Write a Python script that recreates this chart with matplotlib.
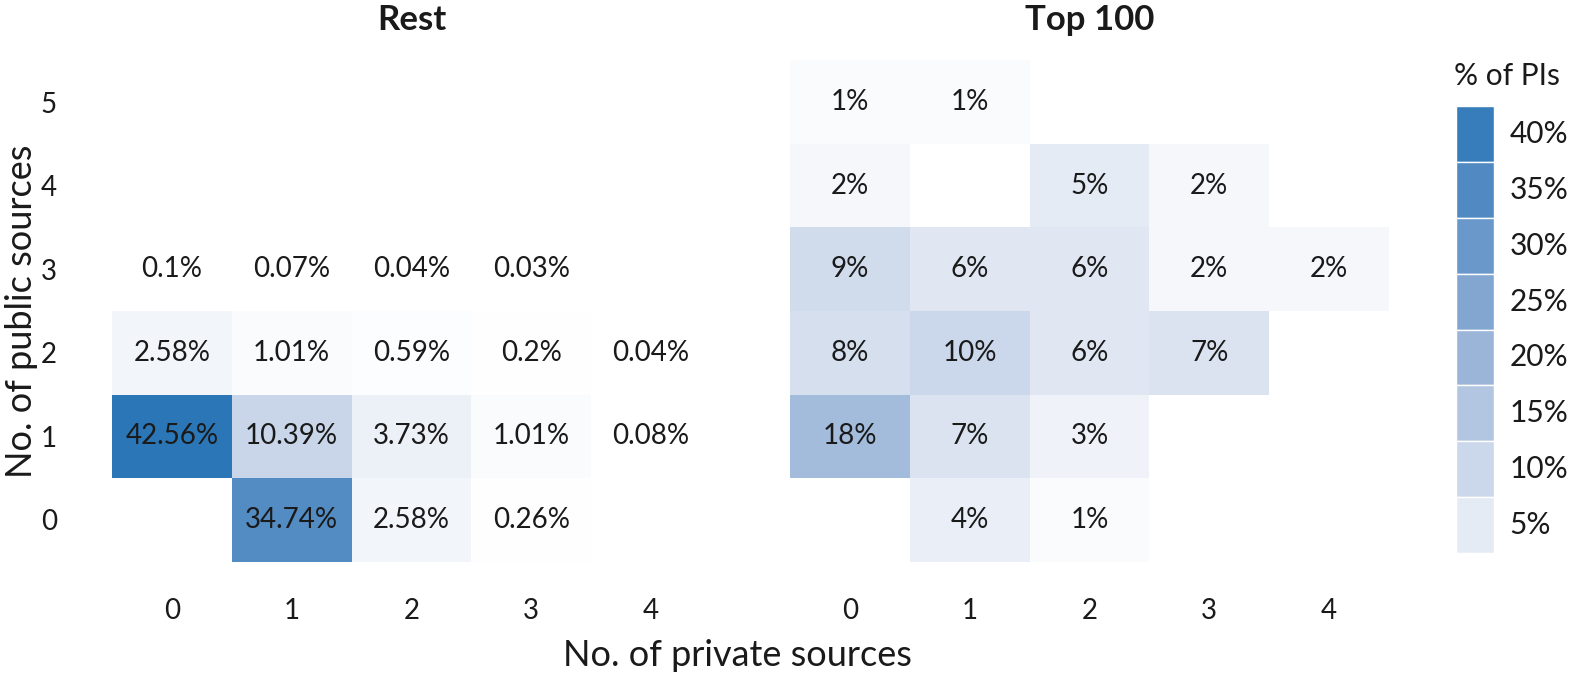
import matplotlib
matplotlib.use("Agg")
import matplotlib.pyplot as plt
from matplotlib.colors import LinearSegmentedColormap, Normalize
from matplotlib.patches import Rectangle

plt.rcParams["font.family"] = ["Lato", "DejaVu Sans"]
INK = "#1a1a1a"

# share of PIs (%) by number of private (x) and public (y) sources
REST_PRIV = [0, 1, 2, 3, 0, 1, 2, 3, 4, 0, 1, 2, 3, 4, 1, 2, 3]
REST_PUB = [3, 3, 3, 3, 2, 2, 2, 2, 2, 1, 1, 1, 1, 1, 0, 0, 0]
REST_PCT = [0.1, 0.07, 0.04, 0.03, 2.58, 1.01, 0.59, 0.2, 0.04,
            42.56, 10.39, 3.73, 1.01, 0.08, 34.74, 2.58, 0.26]

TOP_PRIV = [0, 1, 0, 2, 3, 0, 1, 2, 3, 4, 0, 1, 2, 3, 0, 1, 2, 1, 2]
TOP_PUB = [5, 5, 4, 4, 4, 3, 3, 3, 3, 3, 2, 2, 2, 2, 1, 1, 1, 0, 0]
TOP_PCT = [1, 1, 2, 5, 2, 9, 6, 6, 2, 2, 8, 10, 6, 7, 18, 7, 3, 4, 1]

X_TICKS = [0, 1, 2, 3, 4]
Y_TICKS = [0, 1, 2, 3, 4, 5]
LEGEND_BREAKS = [40, 35, 30, 25, 20, 15, 10, 5]

VMAX = max(REST_PCT + TOP_PCT)
cmap = LinearSegmentedColormap.from_list(
    "pis", [(0, "#FFFFFF"), (10 / VMAX, "#CBD7EA"), (20 / VMAX, "#9BB5D8"),
            (30 / VMAX, "#6B98CA"), (1, "#2B76B7")])
norm = Normalize(0, VMAX)

W, H = 1569, 678
fig = plt.figure(figsize=(W / 100, H / 100), dpi=100)


def px_axes(x0, y0, x1, y1):
    return fig.add_axes([x0 / W, 1 - y1 / H, (x1 - x0) / W, (y1 - y0) / H])


def panel(ax, xs, ys, vals, fmt, title, show_y):
    for x, y, v in zip(xs, ys, vals):
        ax.add_patch(Rectangle((x - 0.5, y - 0.5), 1, 1, color=cmap(norm(v)), lw=0))
        ax.text(x, y, fmt(v), ha="center", va="center", fontsize=20, color=INK)
    ax.set_xlim(-0.6, 4.6); ax.set_ylim(-0.6, 5.6)
    ax.set_xticks(X_TICKS); ax.set_yticks(Y_TICKS)
    ax.tick_params(length=0, labelsize=20, labelcolor=INK)
    ax.tick_params(axis="x", pad=20)
    ax.tick_params(axis="y", pad=31)
    if not show_y:
        ax.set_yticklabels([])
    for s in ax.spines.values():
        s.set_visible(False)
    ax.set_title(title, fontsize=25, fontweight="bold", color=INK, pad=16)


ax1 = px_axes(100, 52, 723, 570)
panel(ax1, REST_PRIV, REST_PUB, REST_PCT, lambda v: f"{v:g}%", "Rest", True)

ax2 = px_axes(778, 52, 1401, 570)
panel(ax2, TOP_PRIV, TOP_PUB, TOP_PCT, lambda v: f"{v:g}%", "Top 100", False)

fig.text(737 / W, 1 - 655 / H, "No. of private sources", ha="center",
         va="center", fontsize=26, color=INK)
fig.text(22 / W, 1 - 311 / H, "No. of public sources", ha="center",
         va="center", rotation=90, fontsize=26, color=INK)

# stepped legend keys
lg = px_axes(1456, 106, 1494, 553)
for i, b in enumerate(LEGEND_BREAKS):
    lg.add_patch(Rectangle((0, len(LEGEND_BREAKS) - 1 - i), 1, 1,
                           facecolor=cmap(norm(b)), edgecolor="white", lw=1))
    lg.text(1.4, len(LEGEND_BREAKS) - 0.5 - i, f"{b}%", ha="left",
            va="center", fontsize=21.5, color=INK)
lg.set_xlim(0, 1); lg.set_ylim(0, len(LEGEND_BREAKS))
lg.axis("off")
fig.text(1507 / W, 1 - 76 / H, "% of PIs", ha="center", va="center",
         fontsize=21.5, color=INK)

fig.savefig("out.png", dpi=100)
